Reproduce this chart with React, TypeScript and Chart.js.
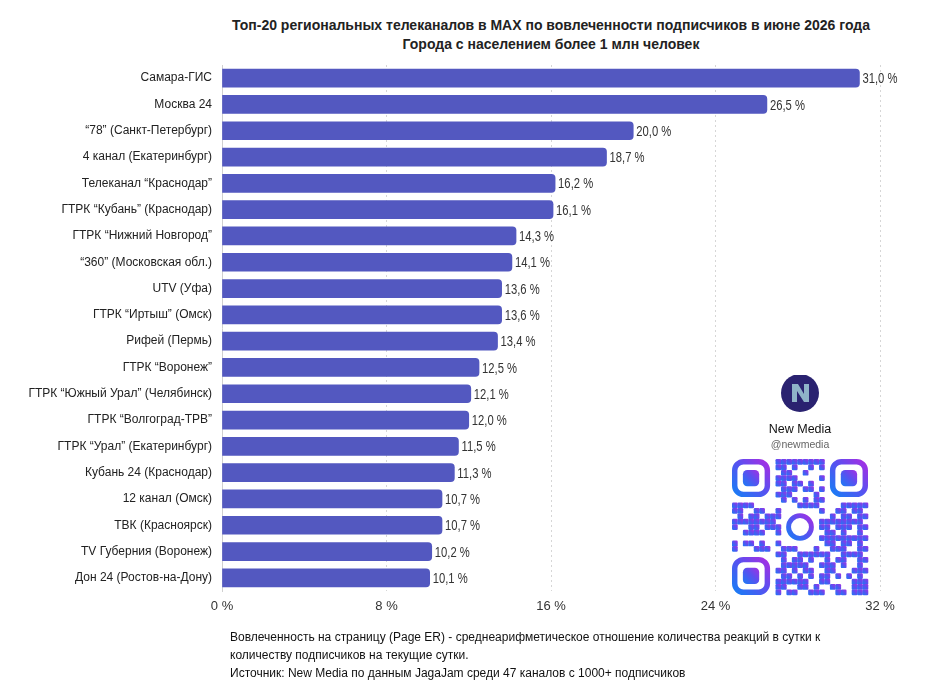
import React, { useEffect, useRef } from 'react';
import { Chart, registerables } from 'chart.js';

Chart.register(...registerables);

const categories = [
  'Самара-ГИС',
  'Москва 24',
  '“78” (Санкт-Петербург)',
  '4 канал (Екатеринбург)',
  'Телеканал “Краснодар”',
  'ГТРК “Кубань” (Краснодар)',
  'ГТРК “Нижний Новгород”',
  '“360” (Московская обл.)',
  'UTV (Уфа)',
  'ГТРК “Иртыш” (Омск)',
  'Рифей (Пермь)',
  'ГТРК “Воронеж”',
  'ГТРК “Южный Урал” (Челябинск)',
  'ГТРК “Волгоград-ТРВ”',
  'ГТРК “Урал” (Екатеринбург)',
  'Кубань 24 (Краснодар)',
  '12 канал (Омск)',
  'ТВК (Красноярск)',
  'TV Губерния (Воронеж)',
  'Дон 24 (Ростов-на-Дону)',
];

const values = [31.0, 26.5, 20.0, 18.7, 16.2, 16.1, 14.3, 14.1, 13.6, 13.6, 13.4, 12.5, 12.1, 12.0, 11.5, 11.3, 10.7, 10.7, 10.2, 10.1];

const xMin = 0;
const xMax = 32;
const xStep = 8;

const titleLines = [
  'Топ-20 региональных телеканалов в MAX по вовлеченности подписчиков в июне 2026 года',
  'Города с населением более 1 млн человек',
];

const footerLines = [
  'Вовлеченность на страницу (Page ER) - среднеарифметическое отношение количества реакций в сутки к',
  'количеству подписчиков на текущие сутки.',
  'Источник: New Media по данным JagaJam среди 47 каналов с 1000+ подписчиков',
];

const SANS = '"Liberation Sans", Arial, Helvetica, sans-serif';

const fmt = (v: number) => v.toFixed(1).replace('.', ',') + ' %';

const valueLabels = {
  id: 'valueLabels',
  afterDatasetsDraw(chart: any) {
    const ctx = chart.ctx;
    const meta = chart.getDatasetMeta(0);
    const data = chart.data.datasets[0].data as number[];
    const sx = 0.75;
    ctx.save();
    ctx.font = `15px ${SANS}`;
    ctx.fillStyle = '#333';
    ctx.textBaseline = 'middle';
    ctx.textAlign = 'left';
    meta.data.forEach((bar: any, i: number) => {
      ctx.save();
      ctx.translate(bar.x + 3, bar.y + 1);
      ctx.scale(sx, 1);
      ctx.fillText(fmt(data[i]), 0, 0);
      ctx.restore();
    });
    ctx.restore();
  },
};

function QrBlock() {
  const N = 25;
  const size = 136;
  const m = size / N;
  const ox = 2;
  const oy = 84;
  const inFinder = (i: number, j: number) =>
    (i < 8 && j < 8) || (i < 8 && j >= N - 8) || (i >= N - 8 && j < 8);
  const inCenter = (i: number, j: number) => i >= 9 && i <= 15 && j >= 9 && j <= 15;
  const cells: JSX.Element[] = [];
  for (let i = 0; i < N; i++) {
    for (let j = 0; j < N; j++) {
      if (inFinder(i, j) || inCenter(i, j)) continue;
      const h = (i * 31 + j * 17 + i * j * 7 + ((i ^ j) * 5)) % 11;
      if (h < 6) {
        cells.push(
          <rect key={`${i}-${j}`} x={ox + j * m} y={oy + i * m} width={m + 0.3} height={m + 0.3} rx={1.2} fill="url(#qrg)" />
        );
      }
    }
  }
  const finder = (ci: number, cj: number, k: string) => (
    <g key={k}>
      <rect x={ox + cj * m + m / 2} y={oy + ci * m + m / 2} width={6 * m} height={6 * m} rx={m * 1.6} fill="none" stroke="url(#qrg)" strokeWidth={m} />
      <rect x={ox + (cj + 2) * m} y={oy + (ci + 2) * m} width={3 * m} height={3 * m} rx={m * 0.8} fill="url(#qrg)" />
    </g>
  );
  return (
    <svg width={142} height={226} style={{ position: 'absolute', left: 730, top: 375 }}>
      <defs>
        <linearGradient id="qrg" x1="0" y1="1" x2="1" y2="0">
          <stop offset="0" stopColor="#1a7cf5" />
          <stop offset="0.55" stopColor="#5b4ff0" />
          <stop offset="1" stopColor="#a52fe3" />
        </linearGradient>
      </defs>
      <circle cx={70} cy={18} r={19} fill="#2a2270" />
      <path d="M62 27 L62 9 L68 9 L74 19 L74 9 L79 9 L79 27 L74 27 L67 16 L67 27 Z" fill="#8fb3c8" />
      <text x={70} y={58} textAnchor="middle" fontFamily={SANS} fontSize={12.5} fill="#111">New Media</text>
      <text x={70} y={73} textAnchor="middle" fontFamily={SANS} fontSize={10.5} fill="#666">@newmedia</text>
      {finder(0, 0, 'f1')}
      {finder(0, N - 7, 'f2')}
      {finder(N - 7, 0, 'f3')}
      {cells}
      <circle cx={ox + 12.5 * m} cy={oy + 12.5 * m} r={m * 2.1} fill="none" stroke="url(#qrg)" strokeWidth={m * 0.9} />
    </svg>
  );
}

export default function App() {
  const canvasRef = useRef<HTMLCanvasElement>(null);

  useEffect(() => {
    document.body.style.margin = '0';
    const ctx = canvasRef.current!.getContext('2d')!;
    const chart = new Chart(ctx, {
      type: 'bar',
      data: {
        labels: categories,
        datasets: [
          {
            data: values,
            backgroundColor: '#5358c0',
            borderRadius: 4,
            barThickness: 18,
          },
        ],
      },
      plugins: [valueLabels],
      options: {
        indexAxis: 'y',
        animation: false,
        responsive: false,
        devicePixelRatio: 1,
        layout: { padding: { top: 65, right: 55, bottom: 84, left: 0 } },
        plugins: {
          legend: { display: false },
          tooltip: { enabled: false },
          title: { display: false },
        },
        scales: {
          x: {
            min: xMin,
            max: xMax,
            ticks: {
              stepSize: xStep,
              callback: (v: any) => `${v} %`,
              color: '#333',
              font: { size: 13, family: SANS },
              padding: 8,
              maxRotation: 0,
            },
            grid: { color: '#d6d6d6', drawTicks: false },
            border: { display: false, dash: [2, 3] },
            afterFit: (s: any) => {
              s.height = 25;
            },
          },
          y: {
            ticks: {
              color: '#222',
              font: { size: 12, family: SANS },
              padding: 10,
              autoSkip: false,
            },
            grid: { display: false, drawTicks: false },
            border: { display: true, color: '#d0d0d0' },
            afterFit: (s: any) => {
              s.width = 222;
            },
          },
        },
      } as any,
    });
    return () => chart.destroy();
  }, []);

  return (
    <div style={{ position: 'absolute', left: 0, top: 0, width: 935, height: 700, background: '#fff', overflow: 'hidden' }}>
      <div
        style={{
          position: 'absolute',
          left: 222,
          width: 658,
          top: 16,
          textAlign: 'center',
          fontFamily: SANS,
          fontWeight: 'bold',
          fontSize: 14,
          lineHeight: '19px',
          color: '#222',
          whiteSpace: 'nowrap',
        }}
      >
        {titleLines.map((t) => (
          <div key={t}>{t}</div>
        ))}
      </div>
      <canvas ref={canvasRef} width={935} height={700} style={{ position: 'absolute', left: 0, top: 0 }} />
      <QrBlock />
      <div
        style={{
          position: 'absolute',
          left: 230,
          top: 628,
          fontFamily: SANS,
          fontSize: 12,
          lineHeight: '18px',
          color: '#111',
          whiteSpace: 'nowrap',
        }}
      >
        {footerLines.map((t) => (
          <div key={t}>{t}</div>
        ))}
      </div>
    </div>
  );
}
